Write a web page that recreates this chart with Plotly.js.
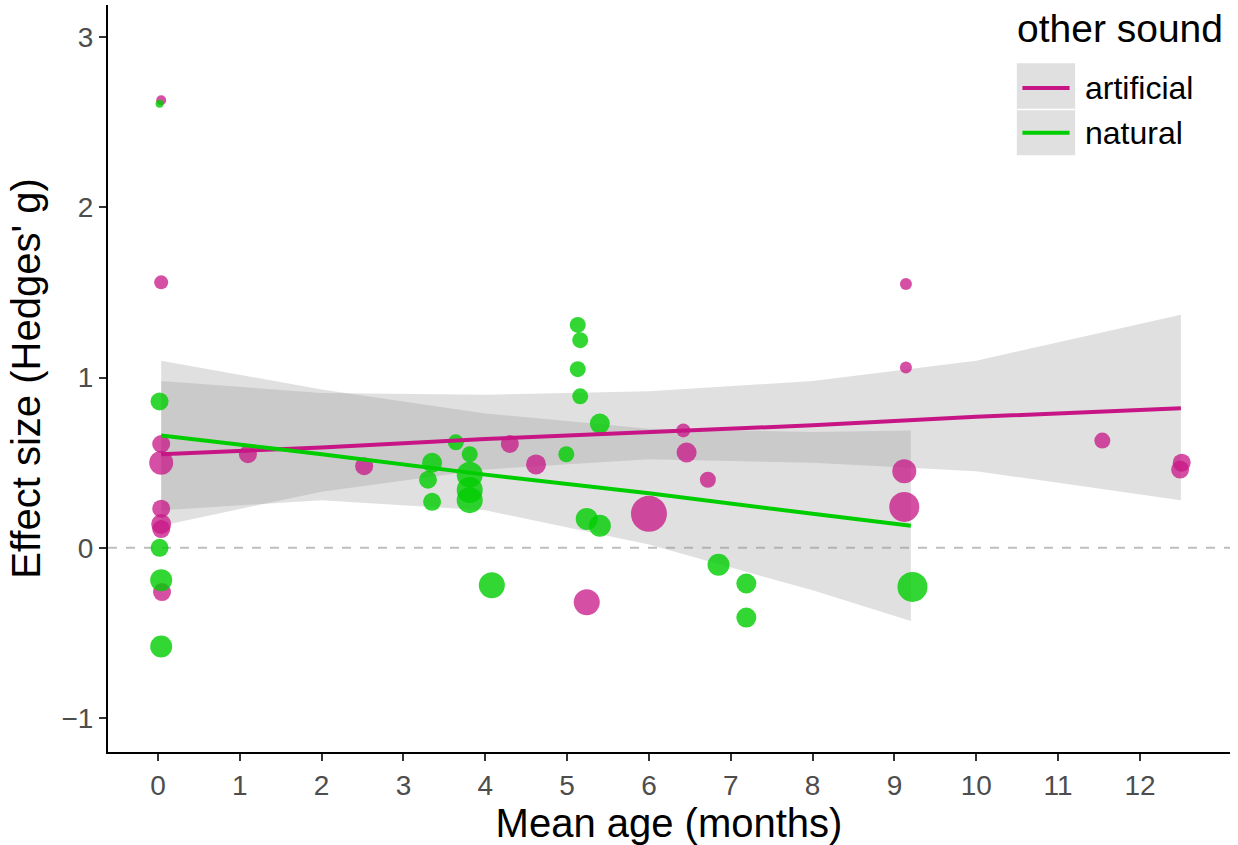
<!DOCTYPE html>
<html>
<head>
<meta charset="utf-8">
<script src="https://cdn.plot.ly/plotly-3.0.1.min.js"></script>
<style>body{margin:0;background:#fff}#plot{width:1238px;height:845px}</style>
</head>
<body>
<div id="plot"></div>
<script>
// artificial (magenta) studies: age, effect size, marker diameter
const artX = [0.04, 0.04, 0.04, 0.04, 0.04, 0.04, 0.04, 0.05, 1.1, 2.52, 4.3, 4.62, 5.24, 6.0, 6.42, 6.46, 6.72, 9.12, 9.12, 9.14, 9.14, 11.54, 12.51, 12.49];
const artY = [2.63, 1.56, 0.61, 0.50, 0.23, 0.14, 0.11, -0.26, 0.55, 0.48, 0.61, 0.49, -0.32, 0.20, 0.69, 0.56, 0.40, 0.45, 0.24, 1.55, 1.06, 0.63, 0.50, 0.46];
const artS = [10, 14, 18, 24, 18, 20, 18, 18, 18, 18, 18, 20, 26, 36, 14, 20, 16, 24, 30, 12, 12, 16, 18, 18];

// natural (green) studies
const natX = [0.02, 0.02, 0.02, 0.04, 0.04, 3.64, 3.81, 3.35, 3.3, 3.35, 3.81, 3.81, 3.81, 4.08, 4.99, 5.13, 5.16, 5.13, 5.16, 5.4, 5.24, 5.4, 6.85, 7.19, 7.19, 9.22];
const natY = [2.61, 0.86, 0.0, -0.19, -0.58, 0.62, 0.55, 0.50, 0.40, 0.27, 0.43, 0.34, 0.28, -0.22, 0.55, 1.31, 1.22, 1.05, 0.89, 0.73, 0.17, 0.13, -0.10, -0.21, -0.41, -0.23];
const natS = [8, 18, 18, 22, 22, 16, 16, 20, 18, 18, 26, 26, 26, 26, 16, 16, 16, 16, 16, 20, 22, 22, 22, 20, 20, 30];

// fitted lines and confidence bands
const artFitX = [0.04, 2, 4, 6, 8, 10, 12.5];
const artFit = [0.55, 0.59, 0.64, 0.68, 0.72, 0.77, 0.82];
const artUp = [0.98, 0.91, 0.90, 0.92, 0.98, 1.10, 1.37];
const artLo = [0.13, 0.33, 0.46, 0.52, 0.50, 0.45, 0.28];

const natFitX = [0.04, 2, 4, 6, 8, 9.2];
const natFit = [0.66, 0.55, 0.43, 0.32, 0.20, 0.13];
const natUp = [1.10, 0.93, 0.79, 0.70, 0.68, 0.69];
const natLo = [0.22, 0.28, 0.22, 0.02, -0.25, -0.43];

const legendNames = ['artificial', 'natural'];

const magenta = '#C71585';
const green = '#00CD00';
const bandFill = 'rgba(153,153,153,0.3)';

function band(x, lo, up) {
  return {
    x: x.concat(x.slice().reverse()),
    y: up.concat(lo.slice().reverse()),
    type: 'scatter', mode: 'lines', fill: 'toself',
    fillcolor: bandFill, line: { width: 0 },
    hoverinfo: 'skip'
  };
}

const traces = [
  band(artFitX, artLo, artUp),
  band(natFitX, natLo, natUp),
  { x: artX, y: artY, type: 'scatter', mode: 'markers',
    marker: { color: magenta, size: artS, opacity: 0.75, line: { width: 0 } } },
  { x: natX, y: natY, type: 'scatter', mode: 'markers',
    marker: { color: green, size: natS, opacity: 0.8, line: { width: 0 } } },
  { x: artFitX, y: artFit, type: 'scatter', mode: 'lines', name: legendNames[0],
    line: { color: magenta, width: 4 } },
  { x: natFitX, y: natFit, type: 'scatter', mode: 'lines', name: legendNames[1],
    line: { color: green, width: 4 } }
];

// hand-drawn legend (ggplot style, grey key boxes)
const legendShapes = [
  { type: 'rect', xref: 'paper', yref: 'paper', x0: 0.810, x1: 0.862, y0: 0.861, y1: 0.922,
    fillcolor: '#E0E0E0', line: { width: 0 } },
  { type: 'rect', xref: 'paper', yref: 'paper', x0: 0.810, x1: 0.862, y0: 0.799, y1: 0.859,
    fillcolor: '#E0E0E0', line: { width: 0 } },
  { type: 'line', xref: 'paper', yref: 'paper', x0: 0.815, x1: 0.857, y0: 0.889, y1: 0.889,
    line: { color: magenta, width: 4 } },
  { type: 'line', xref: 'paper', yref: 'paper', x0: 0.815, x1: 0.857, y0: 0.829, y1: 0.829,
    line: { color: green, width: 4 } }
];
const legendNotes = [
  { text: 'other sound', xref: 'paper', yref: 'paper', x: 0.808, y: 0.969, xanchor: 'left', yanchor: 'middle',
    showarrow: false, font: { size: 39, color: '#000' } },
  { text: legendNames[0], xref: 'paper', yref: 'paper', x: 0.869, y: 0.889, xanchor: 'left', yanchor: 'middle',
    showarrow: false, font: { size: 32, color: '#000' } },
  { text: legendNames[1], xref: 'paper', yref: 'paper', x: 0.869, y: 0.829, xanchor: 'left', yanchor: 'middle',
    showarrow: false, font: { size: 32, color: '#000' } }
];

const layout = {
  width: 1238, height: 845,
  margin: { l: 108, r: 8, t: 5, b: 93 },
  paper_bgcolor: '#fff', plot_bgcolor: '#fff',
  font: { family: 'Liberation Sans, Arial, sans-serif' },
  showlegend: false,
  xaxis: {
    range: [-0.61, 13.1], tickvals: [0,1,2,3,4,5,6,7,8,9,10,11,12],
    showgrid: false, zeroline: false, showline: true, linecolor: '#000', linewidth: 2,
    ticks: 'outside', ticklen: 7, tickcolor: '#333', tickwidth: 1.5,
    tickfont: { size: 28, color: '#4D4D4D' },
    title: { text: 'Mean age (months)', font: { size: 40, color: '#000' }, standoff: 6 }
  },
  yaxis: {
    range: [-1.2, 3.19], tickvals: [-1, 0, 1, 2, 3], ticktext: ['\u22121', '0', '1', '2', '3'],
    showgrid: false, zeroline: false, showline: true, linecolor: '#000', linewidth: 2,
    ticks: 'outside', ticklen: 7, tickcolor: '#333', tickwidth: 1.5,
    tickfont: { size: 28, color: '#4D4D4D' },
    title: { text: "Effect size (Hedges' g)", font: { size: 40, color: '#000' }, standoff: 8 }
  },
  shapes: [{
    type: 'line', xref: 'paper', x0: 0, x1: 1, yref: 'y', y0: 0, y1: 0,
    line: { color: '#BEBEBE', width: 2, dash: 'dash' }, layer: 'below'
  }].concat(legendShapes),
  annotations: legendNotes
};

Plotly.newPlot('plot', traces, layout, { displayModeBar: false });
</script>
</body>
</html>
